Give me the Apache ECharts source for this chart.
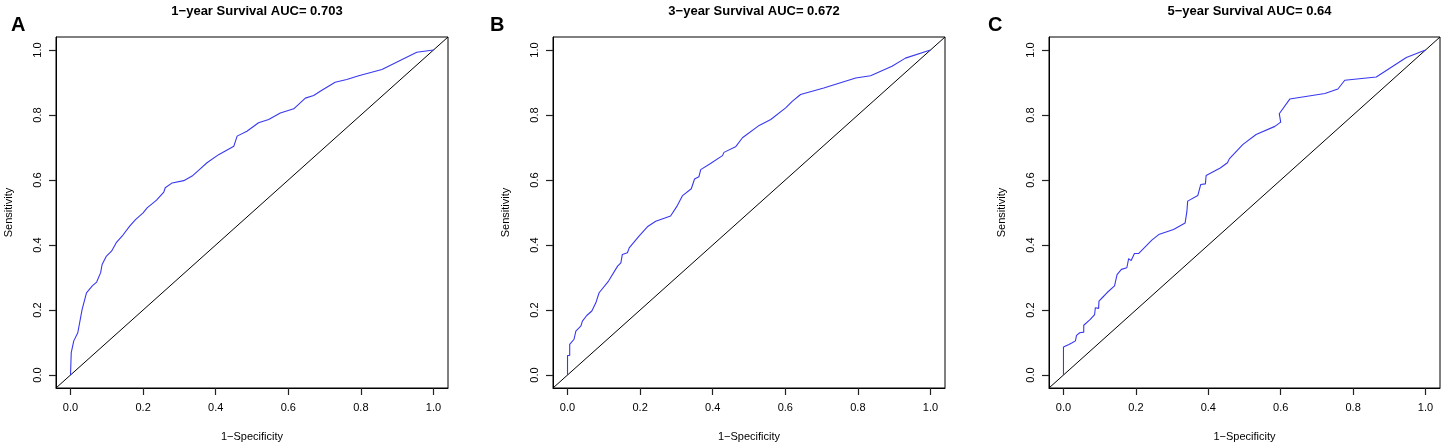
<!DOCTYPE html>
<html>
<head>
<meta charset="utf-8">
<script src="https://cdn.jsdelivr.net/npm/echarts@6/dist/echarts.min.js"></script>
<style>
  html, body { margin: 0; padding: 0; background: #fff; }
  #main { width: 1446px; height: 447px; }
</style>
</head>
<body>
<div id="main"></div>
<script>
// ROC points (1-specificity, sensitivity)
var fpr1 = [0, 0.002, 0.009, 0.020, 0.032, 0.044, 0.060, 0.072, 0.083, 0.087, 0.099, 0.113, 0.126, 0.142, 0.163, 0.179, 0.200, 0.211, 0.237, 0.257, 0.261, 0.280, 0.312, 0.335, 0.355, 0.376, 0.408, 0.450, 0.459, 0.486, 0.518, 0.546, 0.578, 0.615, 0.647, 0.670, 0.688, 0.729, 0.761, 0.794, 0.858, 0.908, 0.954, 1.0];
var tpr1 = [0, 0.069, 0.105, 0.130, 0.202, 0.253, 0.274, 0.286, 0.315, 0.340, 0.366, 0.381, 0.407, 0.427, 0.458, 0.478, 0.499, 0.514, 0.538, 0.563, 0.576, 0.591, 0.598, 0.612, 0.632, 0.653, 0.678, 0.704, 0.735, 0.750, 0.776, 0.786, 0.806, 0.819, 0.852, 0.860, 0.873, 0.901, 0.909, 0.921, 0.940, 0.968, 0.993, 1.0];

var fpr3 = [0, 0, 0.006, 0.006, 0.018, 0.023, 0.037, 0.041, 0.053, 0.067, 0.078, 0.087, 0.113, 0.138, 0.147, 0.151, 0.165, 0.170, 0.197, 0.220, 0.243, 0.284, 0.303, 0.317, 0.341, 0.350, 0.362, 0.367, 0.394, 0.427, 0.431, 0.463, 0.482, 0.528, 0.560, 0.601, 0.619, 0.642, 0.706, 0.794, 0.835, 0.894, 0.931, 1.0];
var tpr3 = [0, 0.060, 0.060, 0.094, 0.110, 0.135, 0.151, 0.166, 0.183, 0.197, 0.222, 0.253, 0.289, 0.335, 0.345, 0.371, 0.376, 0.391, 0.427, 0.456, 0.473, 0.489, 0.522, 0.552, 0.573, 0.603, 0.610, 0.632, 0.651, 0.675, 0.685, 0.702, 0.730, 0.768, 0.786, 0.822, 0.842, 0.863, 0.883, 0.914, 0.921, 0.950, 0.975, 1.0];

var fpr5 = [0, 0, 0.015, 0.024, 0.033, 0.036, 0.045, 0.056, 0.056, 0.074, 0.086, 0.088, 0.097, 0.098, 0.109, 0.120, 0.141, 0.148, 0.160, 0.175, 0.180, 0.187, 0.196, 0.208, 0.244, 0.263, 0.304, 0.336, 0.341, 0.343, 0.371, 0.379, 0.392, 0.394, 0.433, 0.453, 0.458, 0.495, 0.532, 0.584, 0.600, 0.596, 0.625, 0.722, 0.758, 0.777, 0.864, 0.947, 1.0];
var tpr5 = [0, 0.086, 0.094, 0.099, 0.105, 0.122, 0.130, 0.132, 0.153, 0.171, 0.186, 0.207, 0.205, 0.227, 0.240, 0.253, 0.274, 0.309, 0.325, 0.330, 0.358, 0.352, 0.374, 0.374, 0.415, 0.432, 0.448, 0.468, 0.504, 0.535, 0.552, 0.586, 0.588, 0.614, 0.637, 0.653, 0.665, 0.709, 0.740, 0.765, 0.778, 0.804, 0.849, 0.866, 0.880, 0.907, 0.917, 0.977, 1.0];

var panelTitles = ['1\u2212year Survival AUC= 0.703', '3\u2212year Survival AUC= 0.672', '5\u2212year Survival AUC= 0.64'];
var panelLetters = ['A', 'B', 'C'];
var tickValues = [0, 0.2, 0.4, 0.6, 0.8, 1.0];
var axisRange = [-0.04, 1.04];   // R's 4% padding around 0..1

var fprs = [fpr1, fpr3, fpr5];
var tprs = [tpr1, tpr3, tpr5];

// plot boxes (px)
var boxes = [
  { left: 56, top: 37, width: 392, height: 351 },
  { left: 553, top: 37, width: 392, height: 351 },
  { left: 1049, top: 37, width: 391, height: 351 }
];
var letterX = [6, 485, 983];

var font = 'Liberation Sans, Arial, Helvetica, sans-serif';

function pairs(xs, ys) {
  return xs.map(function (x, i) { return [x, ys[i]]; });
}
function fmt(v) { return v.toFixed(1); }

function makeAxis(i, name, gap, labelOpts) {
  return {
    type: 'value', gridIndex: i, min: axisRange[0], max: axisRange[1],
    axisLine: { show: true, onZero: false, lineStyle: { color: '#000', width: 1 } },
    splitLine: { show: false },
    axisTick: { show: true, length: 7, customValues: tickValues.slice(), lineStyle: { color: '#222', width: 1.2 } },
    axisLabel: Object.assign({ customValues: tickValues.slice(), fontFamily: font, fontSize: 11, color: '#000', formatter: fmt }, labelOpts),
    name: name, nameGap: gap, nameLocation: 'middle',
    nameTextStyle: { fontFamily: font, fontSize: 11, color: '#000' }
  };
}

var grid = [], xAxis = [], yAxis = [], series = [], title = [];

boxes.forEach(function (b, i) {
  grid.push({
    left: b.left, top: b.top, width: b.width, height: b.height,
    show: true, borderColor: '#000', borderWidth: 1
  });
  xAxis.push(makeAxis(i, '1\u2212Specificity', 43, { margin: 14 }));
  yAxis.push(makeAxis(i, 'Sensitivity', 42, { margin: 13, rotate: 90 }));

  series.push({
    type: 'line', xAxisIndex: i, yAxisIndex: i, silent: true,
    data: pairs(axisRange, axisRange), showSymbol: false,
    lineStyle: { color: '#000', width: 1 }, z: 2
  });
  series.push({
    type: 'line', xAxisIndex: i, yAxisIndex: i, silent: true,
    data: pairs(fprs[i], tprs[i]), showSymbol: false,
    lineStyle: { color: '#3838f0', width: 1.1 }, z: 3
  });
  title.push({
    text: panelTitles[i], left: b.left + b.width / 2, top: 0, textAlign: 'center',
    textStyle: { fontFamily: font, fontSize: 13, fontWeight: 'bold', color: '#000' }
  });
  title.push({
    text: panelLetters[i], left: letterX[i], top: 10,
    textStyle: { fontFamily: font, fontSize: 20, fontWeight: 'bold', color: '#000' }
  });
});

var chart = echarts.init(document.getElementById('main'));
chart.setOption({
  animation: false,
  backgroundColor: '#fff',
  title: title,
  grid: grid,
  xAxis: xAxis,
  yAxis: yAxis,
  series: series
});
</script>
</body>
</html>
